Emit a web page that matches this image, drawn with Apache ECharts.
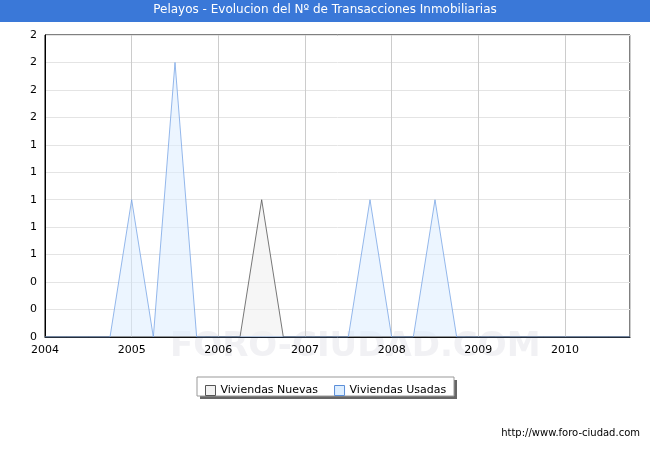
<!DOCTYPE html>
<html><head><meta charset="utf-8">
<script src="https://cdn.jsdelivr.net/npm/echarts@6/dist/echarts.min.js"></script>
<style>html,body{margin:0;padding:0;background:#fff}#c{width:650px;height:450px}</style>
</head><body><div id="c"></div>
<script>
const periods = [2004,2004.25,2004.5,2004.75,2005,2005.25,2005.5,2005.75,2006,2006.25,2006.5,2006.75,2007,2007.25,2007.5,2007.75,2008,2008.25,2008.5,2008.75,2009,2009.25,2009.5,2009.75,2010,2010.25,2010.5,2010.75];
const nuevas  = [0,0,0,0,0,0,0,0,0,0,1,0,0,0,0,0,0,0,0,0,0,0,0,0,0,0,0,0];
const usadas  = [0,0,0,0,1,0,2,0,0,0,0,0,0,0,0,1,0,0,1,0,0,0,0,0,0,0,0,0];
const chart = echarts.init(document.getElementById('c'));
const pair = a => periods.map((p,i)=>[p,a[i]]);
chart.setOption({
  animation:false,
  textStyle:{fontFamily:'Verdana, DejaVu Sans, sans-serif'},
  graphic:[
    {type:'rect',shape:{x:0,y:0,width:650,height:22},style:{fill:'#3a78d8'}},
    {type:'text',left:'center',top:4,style:{text:'Pelayos - Evolucion del Nº de Transacciones Inmobiliarias',fill:'#fff',font:'12px DejaVu Sans'}},
    {type:'text',left:170,top:330,style:{text:'FORO-CIUDAD.COM',fill:'rgba(200,200,210,0.25)',font:'bold 34px DejaVu Sans'}},
    {type:'text',right:10,top:428,style:{text:'http://www.foro-ciudad.com',fill:'#000',font:'10px DejaVu Sans'}},
    {type:'rect',shape:{x:200,y:380,width:257,height:19},style:{fill:'#666'}},
    {type:'rect',shape:{x:197,y:377,width:257,height:19},style:{fill:'#fff',stroke:'#999'}}
  ],
  grid:{left:45,right:20,top:35,bottom:113,show:true,borderColor:'#000',borderWidth:1},
  legend:{left:200,top:380,itemWidth:10,itemHeight:10,itemGap:16,textStyle:{fontSize:11,color:'#000'},
    data:[{name:'Viviendas Nuevas',icon:'rect',itemStyle:{color:'#f2f2f2',borderColor:'#555',borderWidth:1}},
          {name:'Viviendas Usadas',icon:'rect',itemStyle:{color:'#ddeeff',borderColor:'#5a8ed8',borderWidth:1}}]},
  xAxis:{type:'value',min:2004,max:2010.75,interval:1,
    axisLine:{lineStyle:{color:'#000'}},axisTick:{show:false},
    axisLabel:{color:'#000',fontSize:11,formatter:v=>Number.isInteger(v)?String(v):''},
    splitLine:{lineStyle:{color:'#ccc'}}},
  yAxis:{type:'value',min:0,max:2.2,interval:0.2,
    axisLine:{show:true,lineStyle:{color:'#000'}},axisTick:{show:false},
    axisLabel:{color:'#000',fontSize:11,formatter:v=>String(Math.round(v))},
    splitLine:{lineStyle:{color:'#e4e4e4'}}},
  series:[
    {name:'Viviendas Nuevas',type:'line',data:pair(nuevas),symbol:'none',
     lineStyle:{color:'#555',width:0.8},itemStyle:{color:'#f2f2f2'},areaStyle:{color:'rgba(240,240,240,0.9)'}},
    {name:'Viviendas Usadas',type:'line',data:pair(usadas),symbol:'none',
     lineStyle:{color:'#7aa6e6',width:0.8},itemStyle:{color:'#ddeeff'},areaStyle:{color:'rgba(221,238,255,0.8)'}}
  ]
});
</script></body></html>
